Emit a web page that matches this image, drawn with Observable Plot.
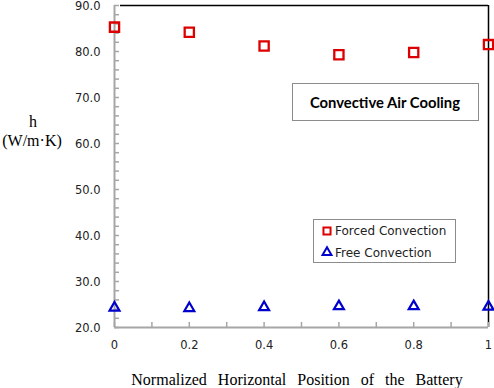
<!DOCTYPE html>
<html><head><meta charset="utf-8">
<script src="https://cdn.jsdelivr.net/npm/d3@7"></script>
<script src="https://cdn.jsdelivr.net/npm/@observablehq/plot@0.6"></script>
<style>
body{margin:0;background:#fff}
#chart{position:relative;width:494px;height:388px}
</style>
</head><body><div id="chart"></div>
<script>
// ---- data ----
const positions = [0, 0.2, 0.4, 0.6, 0.8, 1.0];
const forced = [85.3, 84.2, 81.2, 79.3, 79.8, 81.5];
const free = [24.3, 24.2, 24.4, 24.6, 24.6, 24.5];
const yTickValues = [20, 30, 40, 50, 60, 70, 80, 90];
const yMinorValues = d3.range(20, 90.1, 2);
const xTickValues = [0, 0.2, 0.4, 0.6, 0.8, 1];
const xTickLabels = ["0", "0.2", "0.4", "0.6", "0.8", "1"];
const xMinorValues = d3.range(0, 1.001, 0.1);
const seriesNames = ["Forced Convection", "Free Convection"];
const titleText = "Convective Air Cooling";
const yLabelLines = ["h", "(W/m·K)"];
const xLabel = "Normalized Horizontal Position of the Battery";

const forcedData = positions.map((x, i) => ({x, y: forced[i]}));
const freeData = positions.map((x, i) => ({x, y: free[i]}));

const W = 494, H = 388;
const mL = 114, mR = 6, mT = 5, mB = 61;
const frameW = W - mL - mR, frameH = H - mT - mB;
const axisGray = "#a6a6a6";
const sans = "DejaVu Sans, Verdana, sans-serif";
const serif = "Liberation Serif, Times New Roman, serif";

const plot = Plot.plot({
  width: W, height: H,
  marginLeft: mL, marginRight: mR, marginTop: mT, marginBottom: mB,
  style: {background: "#fff", overflow: "visible"},
  x: {domain: [0, 1]},
  y: {domain: [20, 90]},
  marks: [
    // borders
    Plot.ruleY([90], {stroke: "#000", strokeWidth: 1.5, insetLeft: 6}),
    Plot.ruleX([1], {stroke: "#000", strokeWidth: 1.5}),
    // minor ticks (inside)
    Plot.tickY(yMinorValues, {y: d => d, stroke: axisGray, strokeWidth: 1.5, insetRight: frameW - 5}),
    Plot.tickX(xMinorValues, {x: d => d, stroke: axisGray, strokeWidth: 1.5, insetTop: frameH - 5}),
    // axis lines
    Plot.ruleX([0], {stroke: axisGray, strokeWidth: 2}),
    Plot.ruleY([20], {stroke: axisGray, strokeWidth: 2}),
    // tick labels
    Plot.axisY({ticks: yTickValues, tickSize: 0, tickPadding: 14, tickFormat: d => d.toFixed(1),
      fontSize: 11.5, fontFamily: sans, fill: "#222", label: null, dy: 1}),
    Plot.axisX({ticks: xTickValues, tickSize: 0, tickPadding: 13,
      tickFormat: d => xTickLabels[xTickValues.indexOf(d)], fontSize: 11.5, fontFamily: sans, fill: "#222", label: null}),
    // data
    Plot.dot(freeData, {x: "x", y: "y", symbol: "triangle", r: 3.7, stroke: "#0000cc", strokeWidth: 2.2, fill: "none"}),
    Plot.dot(forcedData, {x: "x", y: "y", symbol: "square", r: 5.2, stroke: "#dd0000", strokeWidth: 2.3, fill: "none"}),
  ]
});
document.getElementById("chart").appendChild(plot);

// ---- annotations ----
const svg = d3.select(plot);
// y axis label
svg.append("text").attr("x", 33).attr("y", 127).attr("text-anchor", "middle")
  .attr("font-family", serif).attr("font-size", 16).attr("fill", "#000").text(yLabelLines[0]);
svg.append("text").attr("x", 32).attr("y", 146).attr("text-anchor", "middle")
  .attr("font-family", serif).attr("font-size", 16).attr("fill", "#000").text(yLabelLines[1]);
// x axis label
svg.append("text").attr("x", 297).attr("y", 385).attr("text-anchor", "middle")
  .attr("font-family", serif).attr("font-size", 16).attr("fill", "#000")
  .style("word-spacing", "7px").text(xLabel);

// title box
svg.append("rect").attr("x", 292.5).attr("y", 83.5).attr("width", 186).attr("height", 37)
  .attr("fill", "#fff").attr("stroke", "#8c8c8c").attr("stroke-width", 1);
svg.append("text").attr("x", 385).attr("y", 108).attr("text-anchor", "middle")
  .attr("font-family", "Lato, Open Sans, sans-serif").attr("font-weight", "bold").attr("font-size", 14.8)
  .attr("fill", "#000").text(titleText);

// legend
const lg = svg.append("g");
lg.append("rect").attr("x", 313.5).attr("y", 219.5).attr("width", 142).attr("height", 43)
  .attr("fill", "#fff").attr("stroke", "#8c8c8c").attr("stroke-width", 1);
const sym = [d3.symbol(d3.symbolSquare, Math.PI * 4.0 * 4.0), d3.symbol(d3.symbolTriangle, Math.PI * 3.3 * 3.3)];
const cols = ["#dd0000", "#0000cc"];
seriesNames.forEach((name, i) => {
  const cy = 231 + i * 21.5;
  lg.append("path").attr("d", sym[i]()).attr("transform", `translate(327,${cy})`)
    .attr("fill", "none").attr("stroke", cols[i]).attr("stroke-width", 2);
  lg.append("text").attr("x", 335).attr("y", cy + 4).attr("text-anchor", "start")
    .attr("font-family", sans).attr("font-size", 12)
    .attr("fill", "#222").text(name);
});
</script>
</body></html>
